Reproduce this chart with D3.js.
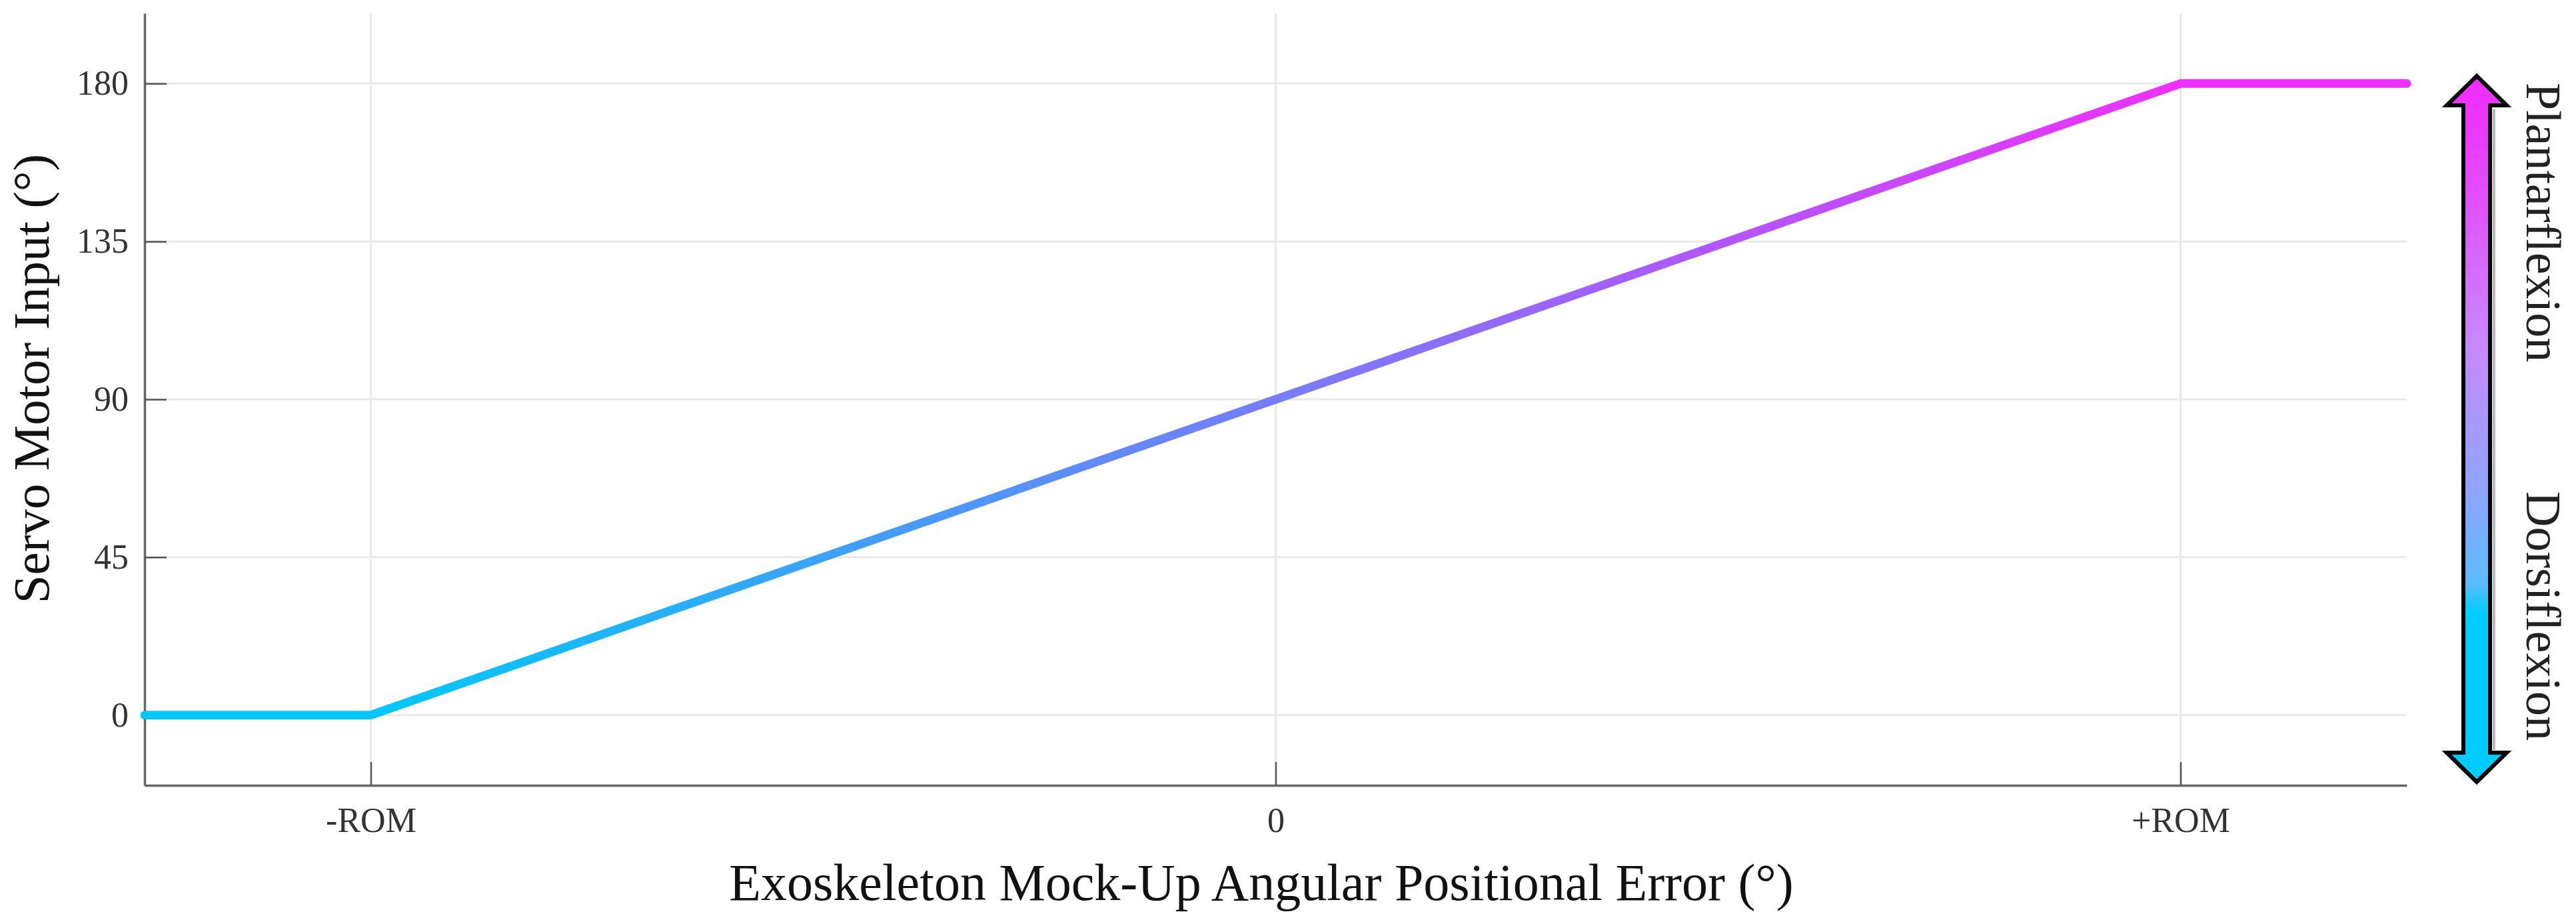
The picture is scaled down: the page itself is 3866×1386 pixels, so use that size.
<!DOCTYPE html>
<html>
<head>
<meta charset="utf-8">
<script src="https://cdn.jsdelivr.net/npm/d3@7"></script>
<style>
  html, body { margin: 0; padding: 0; background: #ffffff; }
  svg { display: block; }
</style>
</head>
<body>
<svg id="chart" width="3866" height="1386"></svg>
<script>
// ---------------- DATA ----------------
const xTickValues = [-1, 0, 1];
const xTickLabels = ["-ROM", "0", "+ROM"];
const yTickValues = [0, 45, 90, 135, 180];
const errorX = [-1.25, -1, 1, 1.25];      // positional error (in units of ROM)
const servoY = [0, 0, 180, 180];          // servo motor input (°)
const xDomain = [-1.25, 1.25];
const yDomain = [-20, 200];
const xTitle = "Exoskeleton Mock-Up Angular Positional Error (°)";
const yTitle = "Servo Motor Input (°)";
const arrowLabels = ["Plantarflexion", "Dorsiflexion"];
const colorLow = "#00c8fa";
const colorHigh = "#ee30ff";

// ---------------- LAYOUT ----------------
const W = 3866, H = 1386;
const plot = { left: 217, right: 3612, top: 20, bottom: 1178 };
const FONT = "'Liberation Serif', 'Times New Roman', serif";

const svg = d3.select("#chart");
svg.append("rect").attr("width", W).attr("height", H).attr("fill", "#fff");

const x = d3.scaleLinear().domain(xDomain).range([plot.left, plot.right]);
const y = d3.scaleLinear().domain(yDomain).range([plot.bottom, plot.top]);

const defs = svg.append("defs");

// gradient for the line (along x, between -ROM and +ROM)
const lg = defs.append("linearGradient")
  .attr("id", "lineGrad")
  .attr("gradientUnits", "userSpaceOnUse")
  .attr("x1", x(xTickValues[0])).attr("y1", 0)
  .attr("x2", x(xTickValues[2])).attr("y2", 0);
lg.append("stop").attr("offset", 0).attr("stop-color", colorLow);
lg.append("stop").attr("offset", 1).attr("stop-color", colorHigh);

// ---------------- GRID ----------------
const grid = svg.append("g").attr("class", "grid");
grid.selectAll("line.h").data(yTickValues).join("line")
  .attr("class", "h")
  .attr("x1", plot.left).attr("x2", plot.right)
  .attr("y1", d => y(d)).attr("y2", d => y(d))
  .attr("stroke", "#e9e9e9").attr("stroke-width", 3);
grid.selectAll("line.v").data(xTickValues).join("line")
  .attr("class", "v")
  .attr("y1", plot.top).attr("y2", plot.bottom)
  .attr("x1", d => x(d)).attr("x2", d => x(d))
  .attr("stroke", "#e9e9e9").attr("stroke-width", 3);

// ---------------- AXES ----------------
const xAxis = d3.axisBottom(x)
  .tickValues(xTickValues)
  .tickFormat((d, i) => xTickLabels[i])
  .tickSizeInner(-35).tickSizeOuter(0).tickPadding(33);
const gx = svg.append("g").attr("transform", `translate(0,${plot.bottom})`).call(xAxis);

const yAxis = d3.axisLeft(y)
  .tickValues(yTickValues)
  .tickSizeInner(-33).tickSizeOuter(0).tickPadding(24);
const gy = svg.append("g").attr("transform", `translate(${plot.left},0)`).call(yAxis);

[gx, gy].forEach(g => {
  g.select(".domain").attr("stroke", "#666").attr("stroke-width", 3.5);
  g.selectAll(".tick line").attr("stroke", "#555").attr("stroke-width", 2.5);
  g.selectAll(".tick text")
    .attr("font-family", FONT).attr("font-size", 52).attr("fill", "#333");
});

// ---------------- LINE ----------------
const pts = errorX.map((v, i) => [v, servoY[i]]);
const line = d3.line().x(d => x(d[0])).y(d => y(d[1]));
svg.append("path")
  .datum(pts)
  .attr("d", line)
  .attr("fill", "none")
  .attr("stroke", "url(#lineGrad)")
  .attr("stroke-width", 13)
  .attr("stroke-linecap", "round")
  .attr("stroke-linejoin", "round");

// ---------------- AXIS TITLES ----------------
svg.append("text")
  .attr("x", 1893).attr("y", 1350)
  .attr("text-anchor", "middle")
  .attr("font-family", FONT).attr("font-size", 78).attr("fill", "#111")
  .text(xTitle);

svg.append("text")
  .attr("transform", `translate(73,568) rotate(-90)`)
  .attr("text-anchor", "middle")
  .attr("font-family", FONT).attr("font-size", 77).attr("fill", "#111")
  .text(yTitle);

// ---------------- DOUBLE ARROW ----------------
const ag = defs.append("linearGradient")
  .attr("id", "arrowGrad")
  .attr("gradientUnits", "userSpaceOnUse")
  .attr("x1", 0).attr("y1", 114).attr("x2", 0).attr("y2", 1173);
[[0, "#ee2cff"], [0.1, "#ea3cff"], [0.38, "#c888ff"], [0.6, "#8aa6ff"],
 [0.72, "#5abcff"], [0.76, "#00ccff"], [1, "#00ccff"]]
  .forEach(([o, c]) => ag.append("stop").attr("offset", o).attr("stop-color", c));

const cx = 3717, sw = 20, hw = 45, tipT = 114, baseT = 158, tipB = 1173, baseB = 1129;
const arrowPts = [
  [cx, tipT], [cx + hw, baseT], [cx + sw, baseT], [cx + sw, baseB], [cx + hw, baseB],
  [cx, tipB], [cx - hw, baseB], [cx - sw, baseB], [cx - sw, baseT], [cx - hw, baseT]
];
// soft shadow
svg.append("line")
  .attr("x1", cx + sw + 6).attr("x2", cx + sw + 6)
  .attr("y1", baseT + 6).attr("y2", baseB - 4)
  .attr("stroke", "#b8b8b8").attr("stroke-width", 4);
svg.append("path")
  .attr("d", d3.line()(arrowPts) + "Z")
  .attr("fill", "url(#arrowGrad)")
  .attr("stroke", "#000").attr("stroke-width", 6)
  .attr("stroke-linejoin", "miter");

// arrow labels
svg.append("text")
  .attr("transform", `translate(3792,124) rotate(90)`)
  .attr("font-family", FONT).attr("font-size", 74).attr("fill", "#222")
  .text(arrowLabels[0]);
svg.append("text")
  .attr("transform", `translate(3792,1111) rotate(90)`)
  .attr("text-anchor", "end")
  .attr("font-family", FONT).attr("font-size", 74).attr("fill", "#222")
  .text(arrowLabels[1]);
</script>
</body>
</html>
